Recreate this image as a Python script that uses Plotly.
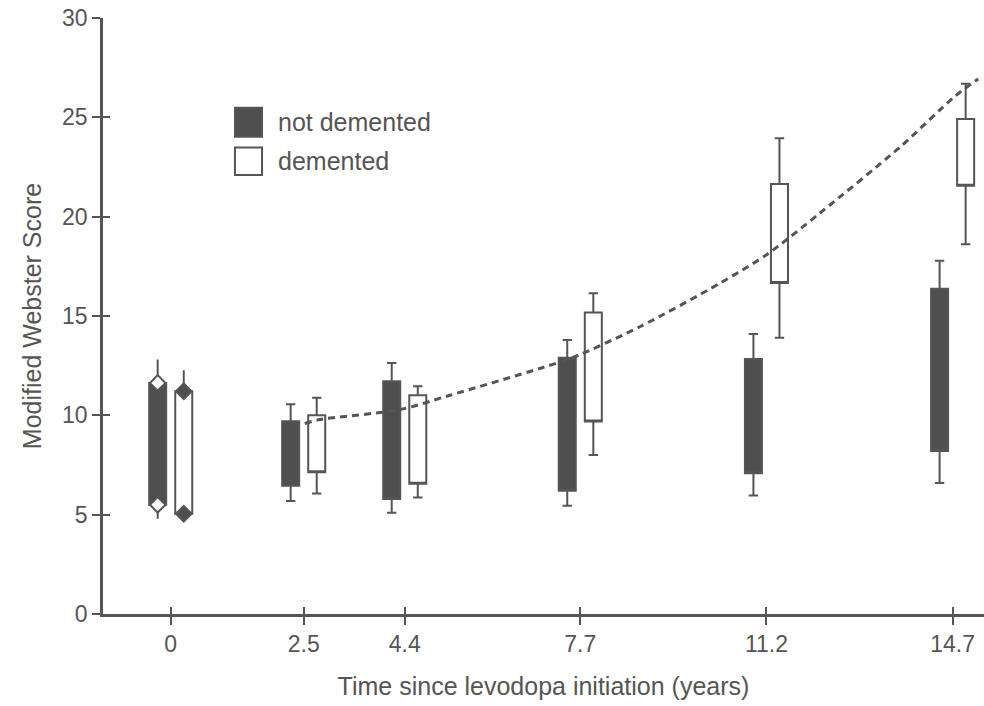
import plotly.graph_objects as go

# ---------------- data ----------------
times = [0, 2.5, 4.4, 7.7, 11.2, 14.7]
tick_labels = ["0", "2.5", "4.4", "7.7", "11.2", "14.7"]
y_ticks = [0, 5, 10, 15, 20, 25, 30]

# not demented
nd_upper = [12.81, 10.56, 12.63, 13.79, 14.10, 17.78]
nd_q3 = [11.63, 9.70, 11.72, 12.90, 12.84, 16.37]
nd_q1 = [5.50, 6.46, 5.79, 6.21, 7.08, 8.21]
nd_lower = [4.80, 5.69, 5.10, 5.45, 5.97, 6.59]

# demented
d_upper = [12.27, 10.88, 11.47, 16.14, 23.95, 26.69]
d_q3 = [11.21, 10.00, 11.01, 15.18, 21.65, 24.91]
d_q1 = [5.05, 7.13, 6.56, 9.69, 16.66, 21.56]
d_lower = [5.05, 6.06, 5.86, 8.00, 13.90, 18.61]

# dashed trend curve
curve_x = [2.52, 2.81, 4.31, 5.25, 6.94, 7.56, 8.82, 10.32, 11.21, 12.20, 13.71, 14.74, 15.18]
curve_y = [9.59, 9.79, 10.29, 11.01, 12.36, 12.91, 14.46, 16.64, 18.10, 20.17, 23.50, 26.05, 26.93]

# ---------------- style ----------------
LINE = "#555555"
DARK = "#4f4f4f"
TEXT = "#555555"
FONT = "Liberation Sans, Arial, sans-serif"
GROUP_OFFSET = 0.245
BOX_WIDTH = 0.32

x_nd = [t - GROUP_OFFSET for t in times]
x_d = [t + GROUP_OFFSET for t in times]


def box(xs, lo, q1, q3, hi, fill, ww):
    return go.Box(
        x=xs, q1=q1, median=q1, q3=q3, lowerfence=lo, upperfence=hi,
        fillcolor=fill, line=dict(color=LINE, width=2),
        whiskerwidth=ww, width=BOX_WIDTH, boxpoints=False,
        showlegend=False, hoverinfo="skip",
    )


fig = go.Figure()

# baseline (time 0) boxes: no whisker caps, diamond end markers
fig.add_trace(box(x_nd[:1], nd_lower[:1], nd_q1[:1], nd_q3[:1], nd_upper[:1], DARK, 0))
fig.add_trace(box(x_d[:1], d_lower[:1], d_q1[:1], d_q3[:1], d_upper[:1], "white", 0))
# later visits
fig.add_trace(box(x_nd[1:], nd_lower[1:], nd_q1[1:], nd_q3[1:], nd_upper[1:], DARK, 0.55))
fig.add_trace(box(x_d[1:], d_lower[1:], d_q1[1:], d_q3[1:], d_upper[1:], "white", 0.55))

# diamonds at baseline box ends
fig.add_trace(go.Scatter(
    x=[x_nd[0], x_nd[0]], y=[nd_q1[0], nd_q3[0]], mode="markers",
    marker=dict(symbol="diamond", size=12, color="white", line=dict(color=LINE, width=2)),
    showlegend=False, hoverinfo="skip"))
fig.add_trace(go.Scatter(
    x=[x_d[0], x_d[0]], y=[d_q1[0], d_q3[0]], mode="markers",
    marker=dict(symbol="diamond", size=12, color=DARK, line=dict(color=LINE, width=2)),
    showlegend=False, hoverinfo="skip"))

# dashed trend
fig.add_trace(go.Scatter(
    x=curve_x, y=curve_y, mode="lines",
    line=dict(color=LINE, width=3, dash="7px,5px", shape="spline", smoothing=0.8),
    showlegend=False, hoverinfo="skip"))

# empty trace so the tick-duplicate axes are drawn
fig.add_trace(go.Scatter(x=[], y=[], xaxis="x2", yaxis="y2", showlegend=False, hoverinfo="skip"))

XR = [-1.273, 15.29]
YR = [0, 30]

axis_common = dict(showgrid=False, zeroline=False, tickcolor=LINE, tickwidth=2)

fig.update_layout(
    width=984, height=706,
    margin=dict(l=103, r=0, t=18, b=92),
    paper_bgcolor="white", plot_bgcolor="white",
    font=dict(family=FONT, color=TEXT),
    xaxis=dict(
        range=XR, tickmode="array", tickvals=times, ticktext=tick_labels,
        ticks="outside", ticklen=8, showline=True, linecolor=LINE, linewidth=2.5,
        tickfont=dict(size=23, color=TEXT),
        title=dict(text="Time since levodopa initiation (years)", font=dict(size=25, color=TEXT), standoff=22),
        automargin=False, **axis_common),
    yaxis=dict(
        range=YR, tickmode="array", tickvals=y_ticks,
        ticks="outside", ticklen=8, showline=True, linecolor=LINE, linewidth=2.5,
        tickfont=dict(size=23, color=TEXT),
        title=dict(text="Modified Webster Score", font=dict(size=25, color=TEXT), standoff=14),
        automargin=False, **axis_common),
    xaxis2=dict(
        range=XR, overlaying="x", anchor="y2", side="bottom", tickmode="array", tickvals=times,
        ticks="inside", ticklen=7, showticklabels=False, showline=False, automargin=False, **axis_common),
    yaxis2=dict(
        range=YR, overlaying="y", anchor="x2", side="left", tickmode="array", tickvals=y_ticks,
        ticks="inside", ticklen=7, showticklabels=False, showline=False, automargin=False, **axis_common),
    showlegend=False,
)

# legend (drawn as layout decoration)
legend_items = [("not demented", DARK, 0.8493, 0.8006), ("demented", "white", 0.7826, 0.7367)]
for label, fill, y1, y0 in legend_items:
    fig.add_shape(type="rect", xref="paper", yref="paper", x0=0.1498, x1=0.1805, y0=y0, y1=y1,
                  fillcolor=fill, line=dict(color=LINE, width=2))
    fig.add_annotation(xref="paper", yref="paper", x=0.1962, y=(y0 + y1) / 2, text=label,
                       showarrow=False, xanchor="left", yanchor="middle",
                       font=dict(size=25, color=TEXT, family=FONT))

fig.write_html("out.html")
